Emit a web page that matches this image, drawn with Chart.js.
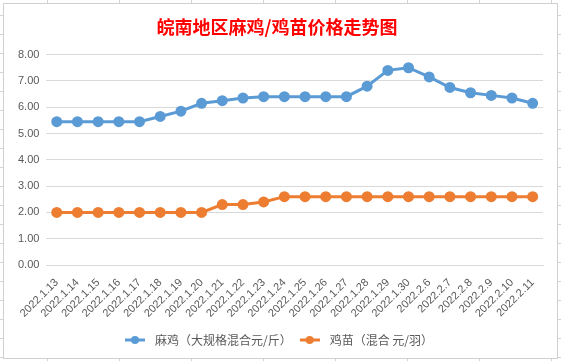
<!DOCTYPE html>
<html>
<head>
<meta charset="utf-8">
<script src="https://cdn.jsdelivr.net/npm/chart.js@4"></script>
<style>
    html, body { margin: 0; padding: 0; }
    body {
        width: 561px; height: 361px; overflow: hidden;
        background-color: #fff;
        background-image:
            repeating-linear-gradient(to right, transparent 0 47px, #d4d4d4 47px 48px, transparent 48px 72px),
            repeating-linear-gradient(to bottom, transparent 0 15px, #d4d4d4 15px 16px, transparent 16px 19px);
    }
    #caja {
        position: absolute; left: 3px; top: 3px; width: 553px; height: 354px;
        background: #fff; border: 1px solid #d0d0d0;
    }
    canvas { position: absolute; left: 0; top: 0; }
</style>
</head>
<body>
<div id="caja"></div>
<canvas id="graficoPrecios" width="561" height="361"></canvas>
<script>
const fechas = ['2022.1.13', '2022.1.14', '2022.1.15', '2022.1.16', '2022.1.17', '2022.1.18', '2022.1.19', '2022.1.20',
    '2022.1.21', '2022.1.22', '2022.1.23', '2022.1.24', '2022.1.25', '2022.1.26', '2022.1.27', '2022.1.28',
    '2022.1.29', '2022.1.30', '2022.2.6', '2022.2.7', '2022.2.8', '2022.2.9', '2022.2.10', '2022.2.11'];

const maji = [5.45, 5.45, 5.45, 5.45, 5.45, 5.65, 5.85, 6.15, 6.25, 6.35, 6.4, 6.4,
    6.4, 6.4, 6.4, 6.8, 7.4, 7.5, 7.15, 6.75, 6.55, 6.45, 6.35, 6.15];

const jimiao = [2, 2, 2, 2, 2, 2, 2, 2, 2.3, 2.3, 2.4, 2.6,
    2.6, 2.6, 2.6, 2.6, 2.6, 2.6, 2.6, 2.6, 2.6, 2.6, 2.6, 2.6];

const nombresSeries = ['麻鸡（大规格混合元/斤）', '鸡苗（混合 元/羽）'];
const colores = ['#5b9bd5', '#ed7d31'];

// icono de leyenda: linea con punto, como en excel
function iconoLeyenda(color) {
    const c = document.createElement('canvas');
    c.width = 20; c.height = 10;
    const g = c.getContext('2d');
    g.strokeStyle = color; g.lineWidth = 3;
    g.beginPath(); g.moveTo(0, 5); g.lineTo(20, 5); g.stroke();
    g.fillStyle = color;
    g.beginPath(); g.arc(10, 5, 4, 0, Math.PI * 2); g.fill();
    return c;
}

const ctx = document.getElementById('graficoPrecios').getContext('2d');
new Chart(ctx, {
    type: 'line',
    data: {
        labels: fechas,
        datasets: [maji, jimiao].map((valores, i) => ({
            label: nombresSeries[i],
            data: valores,
            borderColor: colores[i],
            backgroundColor: colores[i],
            borderWidth: 3,
            pointRadius: 4,
            pointHoverRadius: 4,
            tension: 0
        }))
    },
    options: {
        responsive: false,
        animation: false,
        layout: { padding: { left: 11, right: 18, top: 4, bottom: 5 } },
        plugins: {
            title: {
                display: true,
                text: '皖南地区麻鸡/鸡苗价格走势图',
                color: '#ff0000',
                font: { family: 'Noto Sans CJK SC', size: 18, weight: 'bold' },
                padding: { top: 12, bottom: 17 }
            },
            legend: {
                position: 'bottom',
                labels: {
                    color: '#595959',
                    font: { family: 'Noto Sans CJK SC', size: 12 },
                    usePointStyle: true,
                    pointStyleWidth: 28,
                    boxHeight: 10,
                    padding: 4,
                    generateLabels: chart => chart.data.datasets.map((ds, i) => ({
                        text: ds.label,
                        pointStyle: iconoLeyenda(colores[i]),
                        fontColor: '#595959',
                        datasetIndex: i,
                        hidden: false
                    }))
                }
            },
            tooltip: { enabled: false }
        },
        scales: {
            x: {
                offset: true,
                grid: { display: false },
                border: { color: '#d9d9d9' },
                ticks: {
                    color: '#595959',
                    font: { family: 'Liberation Sans', size: 11 },
                    maxRotation: 45, minRotation: 45,
                    autoSkip: false
                },
                // un poco mas de aire entre etiquetas y leyenda
                afterFit: escala => { escala.height += 7; }
            },
            y: {
                min: 0, max: 8,
                grid: { color: '#d9d9d9', drawTicks: false },
                border: { display: false },
                ticks: {
                    stepSize: 1,
                    color: '#595959',
                    font: { family: 'Liberation Sans', size: 11 },
                    padding: 7,
                    callback: v => Number(v).toFixed(2)
                }
            }
        }
    }
});
</script>
</body>
</html>
